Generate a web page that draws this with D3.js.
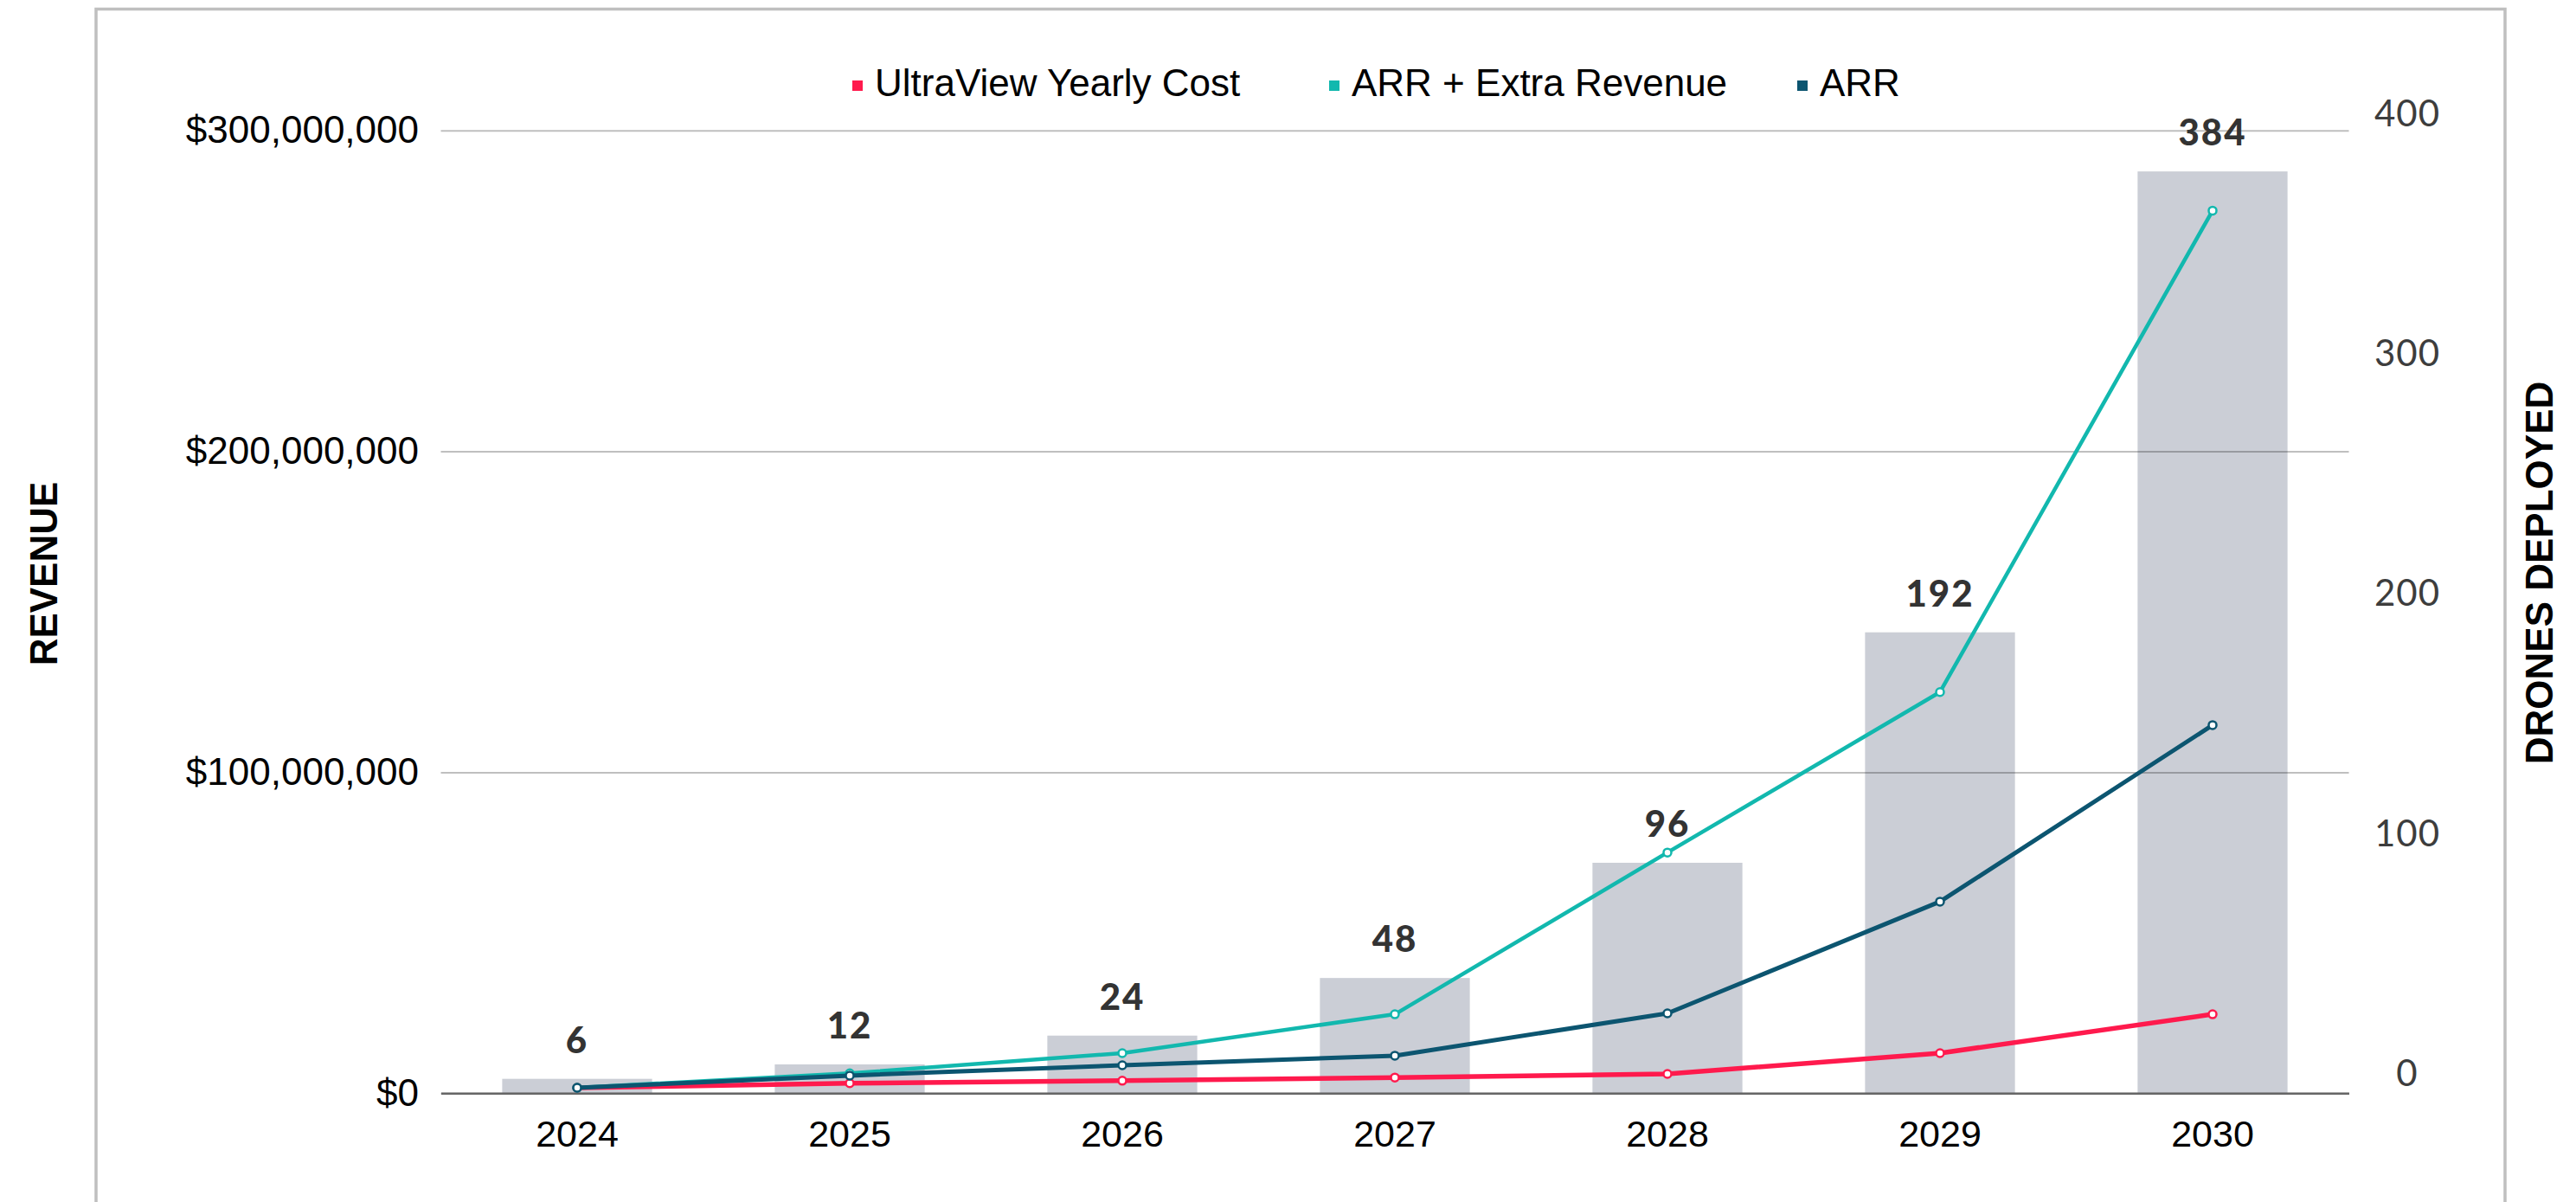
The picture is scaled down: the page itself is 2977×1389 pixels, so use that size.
<!DOCTYPE html>
<html>
<head>
<meta charset="utf-8">
<script src="https://cdn.jsdelivr.net/npm/d3@7"></script>
<style>
  body { margin: 0; background: #fff; }
  svg text { font-family: "Liberation Sans", Arial, sans-serif; }
</style>
</head>
<body>
<div id="chart"></div>
<script>
// data (revenue in $ millions)
var years = ["2024", "2025", "2026", "2027", "2028", "2029", "2030"],
    drones = [6, 12, 24, 48, 96, 192, 384],
    yearlyCost = [1.7, 3.1, 3.9, 4.9, 6.0, 12.5, 24.6],
    arrExtra = [1.7, 6.2, 12.5, 24.6, 75, 125, 275],
    arr = [1.7, 5.5, 8.7, 11.7, 24.9, 59.7, 114.7],
    revenueTicks = [0, 100, 200, 300],
    droneTicks = [0, 100, 200, 300, 400],
    seriesNames = ["UltraView Yearly Cost", "ARR + Extra Revenue", "ARR"];

var width = 2977,
    height = 1389,
    plot = {left: 509.5, right: 2714.5, top: 150.7, bottom: 1263.3},
    colors = ["#ff1a4d", "#12b8ae", "#0c5570"],
    lineWidths = [5.5, 4.5, 5],
    barColor = "#cbced6",
    legendX = [985, 1536, 2077];

var svg = d3.select("#chart").append("svg")
    .attr("width", width)
    .attr("height", height);

// outer frame (bottom edge runs off the picture)
svg.append("rect")
    .attr("x", 111)
    .attr("y", 10.5)
    .attr("width", 2784)
    .attr("height", height + 40)
    .attr("fill", "none")
    .attr("stroke", "#bfbfbf")
    .attr("stroke-width", 3.5);

var x = d3.scaleBand()
    .domain(years)
    .range([plot.left, plot.right])
    .paddingInner(0.45)
    .paddingOuter(0.225);

var yL = d3.scaleLinear()
    .domain([0, 300])
    .range([plot.bottom, plot.top]);

var yR = d3.scaleLinear()
    .domain([0, 400])
    .range([plot.bottom, plot.bottom - 400 * 2.774]);

var cx = d => x(d) + x.bandwidth() / 2;

// bars (drones deployed, right axis)
svg.append("g").selectAll("rect")
    .data(drones)
    .enter().append("rect")
    .attr("x", (d, i) => x(years[i]))
    .attr("width", x.bandwidth())
    .attr("y", d => yR(d))
    .attr("height", d => yR(0) - yR(d))
    .attr("fill", barColor);

// left axis + gridlines
var leftAxis = svg.append("g")
    .attr("transform", "translate(" + plot.left + ",0)")
    .call(d3.axisLeft(yL)
        .tickValues(revenueTicks)
        .tickSize(-(plot.right - plot.left))
        .tickPadding(25.5)
        .tickFormat(d => "$" + d3.format(",")(d * 1e6)));

leftAxis.select(".domain").remove();
leftAxis.selectAll(".tick line")
    .attr("stroke", "rgba(0,0,0,0.25)")
    .attr("stroke-width", 2);
leftAxis.selectAll(".tick text")
    .attr("fill", "#000")
    .style("font-size", "44px");

// bottom axis (baseline + years)
var bottomAxis = svg.append("g")
    .attr("transform", "translate(0," + plot.bottom + ")")
    .call(d3.axisBottom(x).tickSize(0).tickSizeOuter(0).tickPadding(31.5));

bottomAxis.select(".domain")
    .attr("stroke", "#666")
    .attr("stroke-width", 2.5);
bottomAxis.selectAll(".tick text")
    .attr("fill", "#000")
    .style("font-size", "43px");

// right axis (labels only)
var rightAxis = svg.append("g")
    .attr("transform", "translate(2782,-22)")
    .call(d3.axisRight(yR).tickValues(droneTicks).tickSize(0).tickPadding(0));

rightAxis.select(".domain").remove();
rightAxis.selectAll(".tick text")
    .attr("x", 0)
    .attr("text-anchor", "middle")
    .attr("fill", "#3d3d3d")
    .style("font-family", "Lato, 'Open Sans', sans-serif")
    .style("font-size", "42px")
    .style("letter-spacing", "1px");

// lines
var series = [yearlyCost, arrExtra, arr];

var line = d3.line()
    .x((d, i) => cx(years[i]))
    .y(d => yL(d));

series.forEach(function (s, k) {
    var g = svg.append("g");
    g.append("path")
        .datum(s)
        .attr("d", line)
        .attr("fill", "none")
        .attr("stroke", colors[k])
        .attr("stroke-width", lineWidths[k])
        .attr("stroke-linejoin", "round");
    g.selectAll("circle")
        .data(s)
        .enter().append("circle")
        .attr("cx", (d, i) => cx(years[i]))
        .attr("cy", d => yL(d))
        .attr("r", 4.5)
        .attr("fill", "#fff")
        .attr("stroke", colors[k])
        .attr("stroke-width", 2.5);
});

// bar value labels
svg.append("g").selectAll("text")
    .data(drones)
    .enter().append("text")
    .attr("x", (d, i) => cx(years[i]))
    .attr("y", d => yR(d) - 30)
    .attr("text-anchor", "middle")
    .attr("fill", "#333")
    .style("font-family", "Lato, 'Open Sans', sans-serif")
    .style("font-weight", "900")
    .style("font-size", "42px")
    .style("letter-spacing", "2px")
    .text(d => d);

// legend
var legend = svg.append("g").selectAll("g")
    .data(seriesNames)
    .enter().append("g")
    .attr("transform", (d, i) => "translate(" + legendX[i] + ",0)");

legend.append("rect")
    .attr("y", 93)
    .attr("width", 12)
    .attr("height", 12)
    .attr("fill", (d, i) => colors[i]);

legend.append("text")
    .attr("x", 26)
    .attr("y", 111)
    .style("font-size", "44px")
    .attr("fill", "#000")
    .text(d => d);

// axis titles
svg.append("text")
    .attr("transform", "translate(50,663) rotate(-90)")
    .attr("text-anchor", "middle")
    .attr("dy", "0.36em")
    .style("font-weight", "bold")
    .style("font-size", "44px")
    .text("REVENUE");

svg.append("text")
    .attr("transform", "translate(2934,662) rotate(-90)")
    .attr("text-anchor", "middle")
    .attr("dy", "0.36em")
    .style("font-weight", "bold")
    .style("font-size", "44px")
    .text("DRONES DEPLOYED");
</script>
</body>
</html>
